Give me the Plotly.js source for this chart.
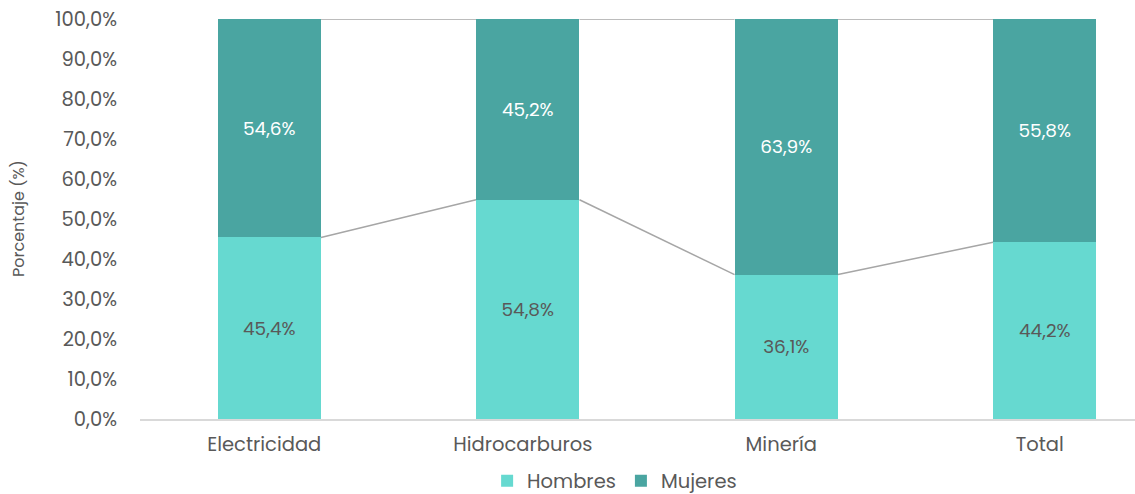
<!DOCTYPE html>
<html>
<head>
<meta charset="utf-8">
<script src="https://cdn.plot.ly/plotly-3.0.1.min.js"></script>
<style>html,body{margin:0;padding:0;background:#fff;}#chart{width:1135px;height:494px;}</style>
</head>
<body>
<div id="chart"></div>
<script>
const categories = ["Electricidad", "Hidrocarburos", "Minería", "Total"];
const hombres = [45.4, 54.8, 36.1, 44.2];
const mujeres = [54.6, 45.2, 63.9, 55.8];
const seriesNames = ["Hombres", "Mujeres"];
const yTickValues = [0, 10, 20, 30, 40, 50, 60, 70, 80, 90, 100];
const yTitle = "Porcentaje (%)";

const barWidth = 0.4;
const FONT = "Poppins, Inter, 'Open Sans', sans-serif";
const GRAY = "#595959";

const yTickText = yTickValues.map(v => v.toFixed(1).replace(".", ",") + "%");

const traces = [
  {
    type: "bar", name: seriesNames[0], x: categories, y: hombres,
    marker: { color: "#66D9D0" }, width: barWidth,
    texttemplate: "%{y:.1f}%", textposition: "inside", insidetextanchor: "middle",
    textfont: { color: GRAY, size: 18.5, family: FONT }, hoverinfo: "x+y"
  },
  {
    type: "bar", name: seriesNames[1], x: categories, y: mujeres,
    marker: { color: "#4AA5A1" }, width: barWidth,
    texttemplate: "%{y:.1f}%", textposition: "inside", insidetextanchor: "middle",
    textfont: { color: "#ffffff", size: 18.5, family: FONT }, hoverinfo: "x+y"
  }
];

// Series lines between stacked bars, derived from the data
const shapes = [];
for (let i = 0; i < categories.length - 1; i++) {
  const levelsA = [hombres[i], hombres[i] + mujeres[i]];
  const levelsB = [hombres[i + 1], hombres[i + 1] + mujeres[i + 1]];
  for (let k = 0; k < 2; k++) {
    shapes.push({
      type: "line", xref: "x", yref: "y", layer: "below",
      x0: i + barWidth / 2, y0: levelsA[k],
      x1: i + 1 - barWidth / 2, y1: levelsB[k],
      line: { color: "#a6a6a6", width: 1.5 }
    });
  }
}

const layout = {
  width: 1135, height: 494,
  margin: { l: 140, r: 0, t: 19, b: 75, autoexpand: false },
  barmode: "stack",
  separators: ",.",
  paper_bgcolor: "#ffffff", plot_bgcolor: "#ffffff",
  font: { family: FONT, color: GRAY },
  showlegend: true,
  legend: {
    orientation: "h", x: 0.477, xanchor: "center", y: -0.155, yanchor: "middle",
    font: { size: 19.5, color: GRAY, family: FONT }, traceorder: "normal"
  },
  xaxis: {
    type: "category", range: [-0.5, 3.349], automargin: false,
    showgrid: false, zeroline: false,
    showline: true, linecolor: "#d9d9d9", linewidth: 2,
    ticks: "", tickfont: { size: 19.5, color: GRAY, family: FONT },
    ticklabelstandoff: 7, ticklabelshift: -5
  },
  yaxis: {
    range: [0, 100], automargin: false,
    tickmode: "array", tickvals: yTickValues, ticktext: yTickText,
    showgrid: false, zeroline: false, showline: false, ticks: "",
    tickfont: { size: 19.5, color: GRAY, family: FONT },
    ticklabelstandoff: 22
  },
  annotations: [{
    text: yTitle, xref: "paper", yref: "paper", x: -0.1226, y: 0.5,
    xanchor: "center", yanchor: "middle", textangle: -90, showarrow: false,
    font: { size: 16, color: GRAY, family: FONT }
  }],
  shapes: shapes
};

Plotly.newPlot("chart", traces, layout, { displayModeBar: false, staticPlot: true });
</script>
</body>
</html>
